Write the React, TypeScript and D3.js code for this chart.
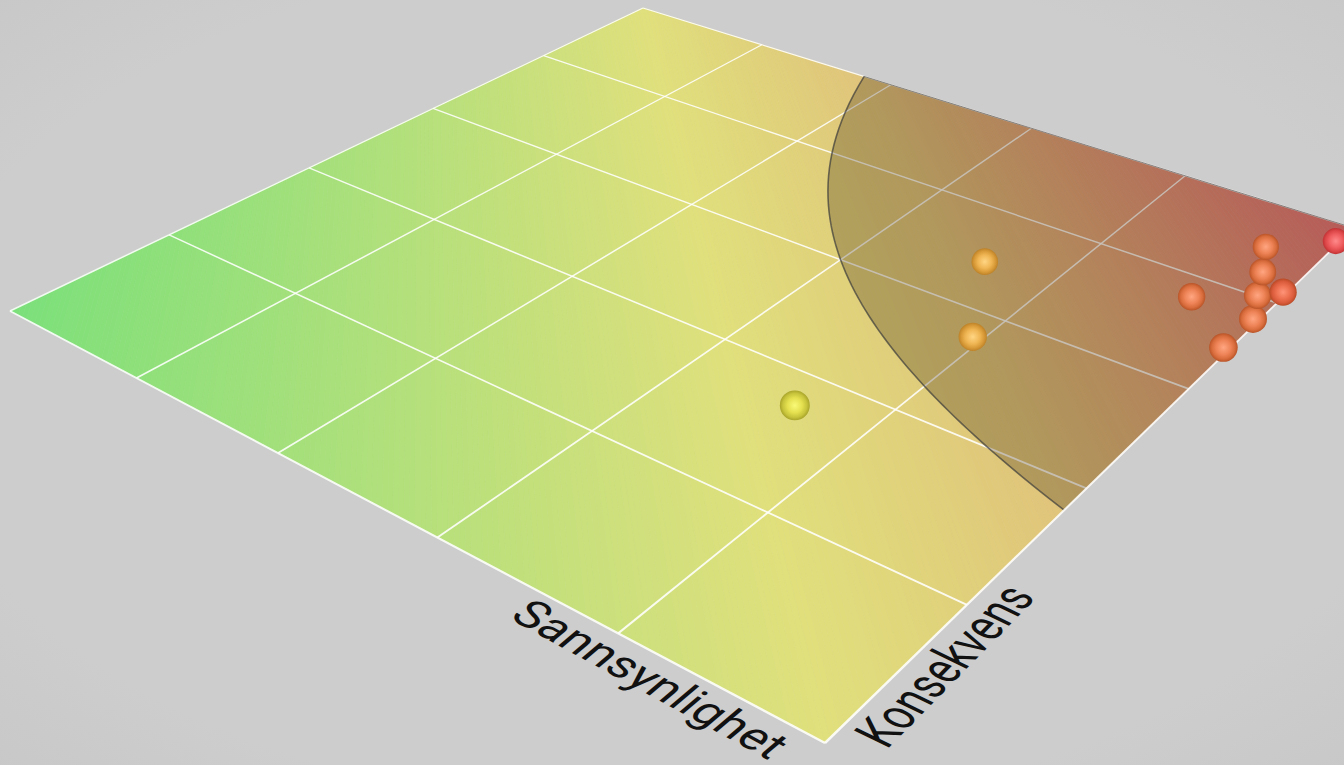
import React from "react";
import * as d3 from "d3";

// Data (both axes run 0..5)
const likelihood = [3.61, 3.61, 3.95, 4.63, 4.97, 4.97, 4.89, 4.81, 4.71, 4.98, 4.98];
const consequence = [1.74, 3.45, 2.77, 3.79, 3.44, 3.78, 4.01, 4.25, 4.51, 4.12, 4.8];
const levels = ["low", "medium", "medium", "high", "high", "high", "high", "high", "high", "severe", "critical"];
const gridTicks = [1, 2, 3, 4];
const riskThreshold = 9;
const axisLikelihood = "Sannsynlighet";
const axisConsequence = "Konsekvens";

const W = 1344;
const H = 765;

// plane projection corners: (0,0), (5,0), (5,5), (0,5)
const corners: [number, number][] = [[10, 311], [825, 743], [1354, 228], [643, 8]];

function makeHomography(q: [number, number][]) {
  const [[x0, y0], [x1, y1], [x2, y2], [x3, y3]] = q;
  const dx1 = x1 - x2, dx2 = x3 - x2, sx = x0 - x1 + x2 - x3;
  const dy1 = y1 - y2, dy2 = y3 - y2, sy = y0 - y1 + y2 - y3;
  const det = dx1 * dy2 - dx2 * dy1;
  const g = (sx * dy2 - dx2 * sy) / det;
  const h = (dx1 * sy - sx * dy1) / det;
  const a = x1 - x0 + g * x1, b = x3 - x0 + h * x3, c = x0;
  const d = y1 - y0 + g * y1, e = y3 - y0 + h * y3, f = y0;
  const w = (s: number, t: number) => g * s + h * t + 1;
  const P = (s: number, t: number): [number, number] => {
    const k = w(s, t);
    return [(a * s + b * t + c) / k, (d * s + e * t + f) / k];
  };
  return { P, w };
}
const { P, w } = makeHomography(corners);
const sc = d3.scaleLinear().domain([0, 5]).range([0, 1]);
const pts = (a: [number, number][]) => a.map((p) => p.join(",")).join(" ");

// colour ramp over s+t
const ramp = d3
  .scaleLinear<string>()
  .domain([0, 1, 1.36, 2])
  .range(["#7ae07a", "#e0e07c", "#e0c47a", "#e86f76"])
  .interpolate(d3.interpolateRgb);

const N = 300;
const ends = (v: number): [[number, number], [number, number]] =>
  v <= 1 ? [[v, 0], [0, v]] : [[1, v - 1], [v - 1, 1]];
const strips = d3.range(N).map((i) => {
  const a = (2 * i) / N, b = (2 * (i + 1)) / N;
  const [a0, a1] = ends(a), [b0, b1] = ends(b);
  return {
    color: ramp((a + b) / 2),
    poly: [a0, b0, b1, a1].map(([s, t]) => P(s, t)) as [number, number][],
  };
});

// line tapered with the perspective
function taper(s0: number, t0: number, s1: number, t1: number, width: number) {
  const A = P(s0, t0), B = P(s1, t1);
  const dx = B[0] - A[0], dy = B[1] - A[1];
  const L = Math.hypot(dx, dy);
  const nx = -dy / L, ny = dx / L;
  const ha = width / 2 / w(s0, t0), hb = width / 2 / w(s1, t1);
  return pts([
    [A[0] + nx * ha, A[1] + ny * ha],
    [B[0] + nx * hb, B[1] + ny * hb],
    [B[0] - nx * hb, B[1] - ny * hb],
    [A[0] - nx * ha, A[1] - ny * ha],
  ]);
}

// threshold curve: likelihood * consequence = riskThreshold
const sMin = sc(riskThreshold / 5);
const curveS = d3.range(0, 65).map((i) => sMin + (i / 64) * (1 - sMin));
const curvePts = curveS.map((s) => P(s, sMin / s) as [number, number]);
const line = d3.line();
const curvePath = line(curvePts) as string;
const regionPath = (line([...curvePts, P(1, 1)]) as string) + "Z";
const topEdgePath = line([P(sMin, 1), P(1, 1)]) as string;

const palette: Record<string, string[]> = {
  low: ["#fafa78", "#e4e050", "#c8c43c", "#a8a42a"],
  medium: ["#ffd684", "#f0b655", "#d89a38", "#bd8228"],
  high: ["#ffa682", "#ee8458", "#d86c3c", "#b95428"],
  severe: ["#ff9478", "#ec7050", "#d85a3a", "#b84a26"],
  critical: ["#ff8a8a", "#f06062", "#dc4648", "#c03234"],
};

function textMatrix(s: number, t: number, ux: [number, number], uy: [number, number]) {
  const O = P(s, t);
  const e = 0.001;
  const A = P(s + ux[0] * e, t + ux[1] * e), B = P(s + uy[0] * e, t + uy[1] * e);
  return `matrix(${(A[0] - O[0]) / e} ${(A[1] - O[1]) / e} ${(B[0] - O[0]) / e} ${(B[1] - O[1]) / e} ${O[0]} ${O[1]})`;
}

export default function App() {
  const gridWidth = 1.6;
  return (
    <svg width={W} height={H} viewBox={`0 0 ${W} ${H}`} style={{ position: "absolute", left: 0, top: 0, display: "block" }}>
      <defs>
        <radialGradient id="bg" cx="50%" cy="50%" r="72%">
          <stop offset="0%" stopColor="#cdcdcd" />
          <stop offset="78%" stopColor="#cdcdcd" />
          <stop offset="100%" stopColor="#c8c8c8" />
        </radialGradient>
        {Object.entries(palette).map(([k, c]) => (
          <radialGradient key={k} id={`ball-${k}`}>
            <stop offset="0%" stopColor={c[0]} />
            <stop offset="50%" stopColor={c[1]} />
            <stop offset="80%" stopColor={c[2]} />
            <stop offset="100%" stopColor={c[3]} />
          </radialGradient>
        ))}
      </defs>
      <rect width={W} height={H} fill="url(#bg)" />
      <g>
        {strips.map((d, i) => (
          <polygon key={i} points={pts(d.poly)} fill={d.color} stroke={d.color} strokeWidth={0.6} />
        ))}
      </g>
      <g fill="#ffffff" fillOpacity={0.88}>
        {gridTicks.map((k) => (
          <polygon key={"s" + k} points={taper(sc(k), 0, sc(k), 1, gridWidth)} />
        ))}
        {gridTicks.map((k) => (
          <polygon key={"t" + k} points={taper(0, sc(k), 1, sc(k), gridWidth)} />
        ))}
        <polygon points={taper(0, 0, 0, 1, gridWidth)} />
        <polygon points={taper(0, 1, 1, 1, gridWidth)} />
        <polygon points={taper(0, 0, 1, 0, 1.8)} />
      </g>
      <path d={regionPath} fill="#382810" fillOpacity={0.28} />
      <path d={curvePath} fill="none" stroke="#3a3a3a" strokeOpacity={0.7} strokeWidth={1.6} />
      <path d={topEdgePath} fill="none" stroke="#444" strokeOpacity={0.6} strokeWidth={1} />
      <polygon points={taper(1, 0, 1, 1, 1.8)} fill="#ffffff" fillOpacity={0.88} />
      <g>
        {likelihood.map((v, i) => {
          const s = sc(v), t = sc(consequence[i]);
          const [cx, cy] = P(s, t);
          return <circle key={i} cx={cx} cy={cy} r={13.9 / w(s, t)} fill={`url(#ball-${levels[i]})`} />;
        })}
      </g>
      <g fontFamily="Roboto" fontSize={1} fill="#111111" textAnchor="middle">
        <text transform={textMatrix(0.854, -0.04, [0.0415, 0], [0, -0.0415])}>{axisLikelihood}</text>
        <text transform={textMatrix(1.04, 0.127, [0, 0.041], [0.0445, 0])}>{axisConsequence}</text>
      </g>
    </svg>
  );
}
